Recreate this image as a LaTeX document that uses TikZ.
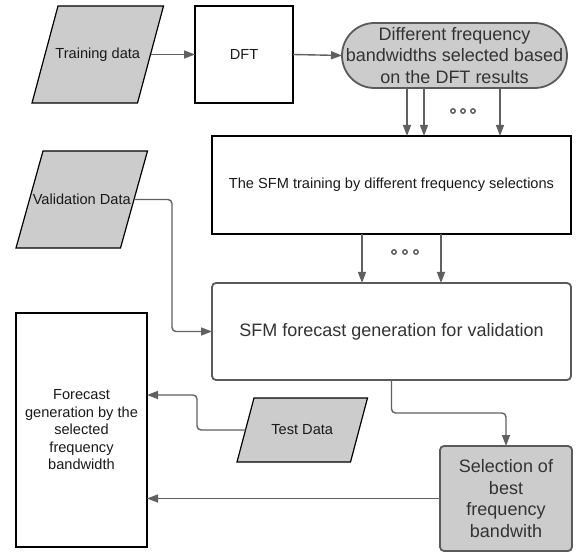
\documentclass[tikz,border=0pt]{standalone}
\usepackage{fontspec}
\setmainfont{Liberation Sans}
\usetikzlibrary{arrows.meta,backgrounds}
\definecolor{fillgray}{HTML}{CCCCCC}
\definecolor{linegray}{HTML}{606060}
\definecolor{edgegray}{HTML}{5A5A5A}
\definecolor{txtgray}{HTML}{333333}
\definecolor{txtblack}{HTML}{1A1A1A}
\tikzset{
  base/.style={inner sep=0pt, outer sep=0pt, align=center},
  blackbox/.style={base, draw=black, line width=1.2pt, fill=white,
    font=\fontsize{14.6}{17.5}\selectfont, text=txtblack},
  graybox/.style={base, draw=edgegray, line width=1.8pt, rounded corners=4pt,
    font=\fontsize{18}{21.7}\selectfont, text=txtgray},
  datanode/.style={base, font=\fontsize{14.6}{17.5}\selectfont, text=txtblack},
  datashape/.style={draw=black, line width=1.2pt, fill=fillgray},
  arr/.style={draw=linegray, line width=1.4pt, rounded corners=4pt,
    -{Triangle[length=11pt,width=8pt]}},
  dotmark/.style={draw=linegray, line width=1.5pt},
}
\begin{document}
\begin{tikzpicture}[x=1pt,y=-1pt]
\useasboundingbox (0,0) rectangle (581,553);

% data nodes (parallelograms drawn on background)
\node[datanode, minimum width=105.5pt, minimum height=97pt] (train) at (97.75,54.5) {Training data};
\node[datanode, minimum width=104.5pt, minimum height=97pt] (valid) at (81.75,199.5) {Validation Data};
\node[datanode, minimum width=113.5pt, minimum height=64pt] (test) at (302.25,430) {Test Data};

\begin{pgfonlayer}{background}
\draw[datashape] ([xshift=13pt]train.north west) -- ([xshift=13pt]train.north east)
  -- ([xshift=-13pt]train.south east) -- ([xshift=-13pt]train.south west) -- cycle;
\draw[datashape] ([xshift=13.5pt]valid.north west) -- ([xshift=13.5pt]valid.north east)
  -- ([xshift=-13.5pt]valid.south east) -- ([xshift=-13.5pt]valid.south west) -- cycle;
\draw[datashape] ([xshift=8.5pt]test.north west) -- ([xshift=8.5pt]test.north east)
  -- ([xshift=-8.5pt]test.south east) -- ([xshift=-8.5pt]test.south west) -- cycle;
\end{pgfonlayer}

% boxes
\node[blackbox, minimum width=98pt, minimum height=97pt] (dft) at (244,54.5) {DFT};
\node[graybox, fill=fillgray, rounded corners=32.5pt, minimum width=225pt, minimum height=65pt]
  (stadium) at (454.5,55.5) {Different frequency\\bandwidths selected based\\on the DFT results};
\node[blackbox, minimum width=359pt, minimum height=98pt] (sfmtrain) at (391.5,185)
  {The SFM training by different frequency selections};
\node[graybox, fill=white, minimum width=359pt, minimum height=97pt] (forecast) at (391.5,331.5)
  {SFM forecast generation for validation};
\node[blackbox, minimum width=131pt, minimum height=234pt] (fbox) at (81.5,430)
  {Forecast\\generation by the\\selected\\frequency\\bandwidth};
\node[graybox, fill=fillgray, minimum width=132pt, minimum height=105pt] (select) at (506,498.5)
  {Selection of\\best\\frequency\\bandwith};

% helper coordinates
\coordinate (a1) at (407,0);
\coordinate (a2) at (424,0);
\coordinate (a3) at (500,0);
\coordinate (b1) at (362,0);
\coordinate (b2) at (441,0);
\coordinate (v1) at (172,260);
\coordinate (m1) at (450,413);
\coordinate (t1) at (197,395);

% connectors
\draw[arr] (train.east) -- (dft.west);
\draw[arr] (dft.east) -- (stadium.west);
\draw[arr] (stadium.south -| a1) -- (sfmtrain.north -| a1);
\draw[arr] (stadium.south -| a2) -- (sfmtrain.north -| a2);
\draw[arr] (stadium.south -| a3) -- (sfmtrain.north -| a3);
\draw[arr] (sfmtrain.south -| b1) -- (forecast.north -| b1);
\draw[arr] (sfmtrain.south -| b2) -- (forecast.north -| b2);
\draw[arr] (valid.east) -| (v1) |- (forecast.west);
\draw[arr] (forecast.south) |- (m1) -| (select.north);
\draw[arr] (test.west) -| (t1) -- (fbox.east |- t1);
\draw[arr] (select.west) -- (fbox.east |- select.west);

% ellipsis dots
\foreach \x in {453,463,473} \draw[dotmark] (\x,111) circle (2.2pt);
\foreach \x in {394,405,416} \draw[dotmark] (\x,252) circle (2.2pt);
\end{tikzpicture}
\end{document}
